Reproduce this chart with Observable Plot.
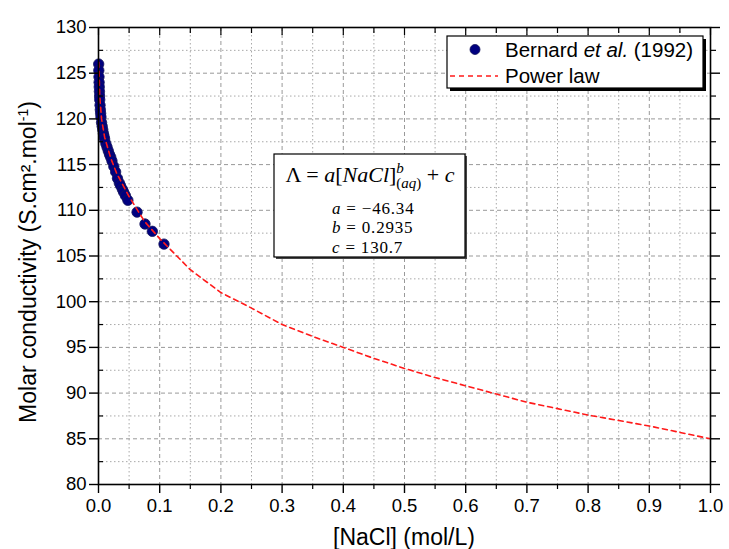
<!DOCTYPE html>
<html>
<head>
<meta charset="utf-8">
<script src="https://cdn.jsdelivr.net/npm/d3@7"></script>
<script src="https://cdn.jsdelivr.net/npm/@observablehq/plot@0.6"></script>
<style>
  html, body { margin: 0; padding: 0; background: white; }
  #chart { position: relative; width: 729px; height: 549px; }
</style>
</head>
<body>
<div id="chart"></div>
<script>
// ---- data ----
const bernardX = [0.0003,0.0005,0.0008,0.001,0.0012,0.0015,0.0018,0.002,0.0025,0.003,0.0035,0.004,0.005,0.006,0.007,0.008,0.009,0.010,0.012,0.014,0.016,0.018,0.020,0.022,0.025,0.028,0.031,0.034,0.036,0.039,0.041,0.044,0.048,0.063,0.076,0.088,0.107];
const bernardY = [126.0,125.3,124.6,124.0,123.5,123.0,122.5,122.1,121.5,121.0,120.6,120.2,119.6,119.2,118.8,118.4,118.1,117.8,117.3,116.9,116.5,116.1,115.8,115.4,114.8,114.2,113.5,113.0,112.7,112.3,112.0,111.6,111.1,109.8,108.5,107.7,106.3];

const fitX = [0.0005,0.002,0.005,0.01,0.02,0.03,0.05,0.075,0.1,0.15,0.2,0.25,0.3,0.35,0.4,0.45,0.5,0.55,0.6,0.65,0.7,0.75,0.8,0.85,0.9,0.95,1.0];
const fitY = [126.2,122.5,120.0,118.0,115.7,114.0,111.5,108.8,106.9,103.5,101.0,99.3,97.5,96.2,95.0,93.8,92.7,91.7,90.8,89.9,89.0,88.3,87.6,87.0,86.4,85.7,85.0];

const xTicks = [0,0.1,0.2,0.3,0.4,0.5,0.6,0.7,0.8,0.9,1.0];
const xMinor = [0.05,0.15,0.25,0.35,0.45,0.55,0.65,0.75,0.85,0.95];
const yTicks = [80,85,90,95,100,105,110,115,120,125,130];
const yMinor = [82.5,87.5,92.5,97.5,102.5,107.5,112.5,117.5,122.5,127.5];

const legendLabels = ["Bernard ", "et al.", " (1992)", "Power law"];
const params = [["a", "−46.34"], ["b", "0.2935"], ["c", "130.7"]];

const points = bernardX.map((x, i) => ({x, y: bernardY[i]}));
const curve = fitX.map((x, i) => ({x, y: fitY[i]}));

const FONT = "'Liberation Sans', Arial, sans-serif";
const fmt = d3.format(".1f");

const plot = Plot.plot({
  width: 729,
  height: 549,
  marginLeft: 98,
  marginRight: 19,
  marginTop: 27,
  marginBottom: 65,
  x: {domain: [0, 1]},
  y: {domain: [80, 130]},
  style: {fontFamily: FONT, fontSize: "18.5px", color: "black", background: "white", overflow: "visible"},
  marks: [
    Plot.ruleX(xMinor, {stroke: "#a8a8a8", strokeDasharray: "1.5,2.5"}),
    Plot.ruleY(yMinor, {stroke: "#a8a8a8", strokeDasharray: "1.5,2.5"}),
    Plot.ruleX(xTicks.slice(1, -1), {stroke: "#999", strokeDasharray: "4,3"}),
    Plot.ruleY(yTicks.slice(1, -1), {stroke: "#999", strokeDasharray: "4,3"}),
    Plot.dot(points, {x: "x", y: "y", r: 5.2, fill: "#000080", stroke: "#14145a", strokeWidth: 0.8}),
    Plot.line(curve, {x: "x", y: "y", stroke: "#ff1a1a", strokeWidth: 1.6, strokeDasharray: "5,4", curve: "linear"}),
    Plot.frame({stroke: "black", strokeWidth: 1.6}),
    // bottom
    Plot.axisX({ticks: xTicks, tickSize: 9, tickPadding: 5, tickFormat: fmt, strokeWidth: 1.4, label: null, letterSpacing: -0.6}),
    Plot.axisX({ticks: xMinor, tickSize: 5, tickFormat: () => "", strokeWidth: 1.2, label: null}),
    // top (inward)
    Plot.axisX({anchor: "top", ticks: xTicks, tickSize: -7, tickFormat: () => "", strokeWidth: 1.2, label: null}),
    Plot.axisX({anchor: "top", ticks: xMinor, tickSize: -5, tickFormat: () => "", strokeWidth: 1.2, label: null}),
    // left
    Plot.axisY({ticks: yTicks, tickSize: 9, tickPadding: 3, tickFormat: d => String(d), strokeWidth: 1.4, label: null, letterSpacing: -0.8}),
    Plot.axisY({ticks: yMinor, tickSize: -5, tickFormat: () => "", strokeWidth: 1.2, label: null}),
    // right
    Plot.axisY({anchor: "right", ticks: yTicks, tickSize: 9, tickFormat: () => "", strokeWidth: 1.4, label: null}),
    Plot.axisY({anchor: "right", ticks: yMinor, tickSize: 5, tickFormat: () => "", strokeWidth: 1.2, label: null})
  ]
});

document.getElementById("chart").appendChild(plot);
const svg = d3.select(plot);

// axis titles
svg.append("text")
  .attr("x", 404).attr("y", 545)
  .attr("text-anchor", "middle")
  .style("font-family", FONT).style("font-size", "23px")
  .text("[NaCl] (mol/L)");

const yt = svg.append("text")
  .attr("transform", "translate(36,262) rotate(-90)")
  .attr("text-anchor", "middle")
  .style("font-family", FONT).style("font-size", "23px");
yt.append("tspan").text("Molar conductivity (S.cm².mol");
yt.append("tspan").attr("dy", -8).style("font-size", "14px").text("-1");
yt.append("tspan").attr("dy", 8).text(")");

// legend box
const lg = svg.append("g").attr("text-anchor", "start");
lg.append("rect").attr("x", 450).attr("y", 39).attr("width", 256).attr("height", 52).attr("fill", "black");
lg.append("rect").attr("x", 447).attr("y", 36).attr("width", 256).attr("height", 52)
  .attr("fill", "white").attr("stroke", "black").attr("stroke-width", 1.2);
lg.append("circle").attr("cx", 475).attr("cy", 49.5).attr("r", 5).attr("fill", "#000080").attr("stroke", "#14145a").attr("stroke-width", 0.8);
const l1 = lg.append("text").attr("x", 505).attr("y", 56.5).attr("text-anchor", "start")
  .style("font-family", FONT).style("font-size", "20.5px");
l1.append("tspan").text(legendLabels[0]);
l1.append("tspan").style("font-style", "italic").text(legendLabels[1]);
l1.append("tspan").text(legendLabels[2]);
lg.append("line").attr("x1", 450).attr("x2", 498).attr("y1", 76).attr("y2", 76)
  .attr("stroke", "#ff1a1a").attr("stroke-width", 1.6).attr("stroke-dasharray", "5,4");
lg.append("text").attr("x", 505).attr("y", 82.5).attr("text-anchor", "start")
  .style("font-family", FONT).style("font-size", "20.5px").text(legendLabels[3]);

// equation box
const SERIF = "'Liberation Serif', 'DejaVu Serif', serif";
const eq = svg.append("g");
eq.append("rect").attr("x", 276).attr("y", 156).attr("width", 191).attr("height", 103).attr("fill", "#444");
eq.append("rect").attr("x", 274).attr("y", 154).attr("width", 191).attr("height", 103)
  .attr("fill", "white").attr("stroke", "black").attr("stroke-width", 1.2);
const t = eq.append("text").attr("x", 370).attr("y", 182).attr("text-anchor", "middle")
  .style("font-family", SERIF).style("font-size", "22px");
t.append("tspan").text("Λ = ");
t.append("tspan").style("font-style", "italic").text("a");
t.append("tspan").text("[");
t.append("tspan").style("font-style", "italic").text("NaCl");
t.append("tspan").text("]");
t.append("tspan").attr("dy", -9).style("font-size", "15px").style("font-style", "italic").text("b");
t.append("tspan").attr("dx", -7.5).attr("dy", 15).style("font-size", "15px").text("(");
t.append("tspan").style("font-size", "15px").style("font-style", "italic").text("aq");
t.append("tspan").style("font-size", "15px").text(")");
t.append("tspan").attr("dy", -6).text(" + ");
t.append("tspan").style("font-style", "italic").text("c");

params.forEach(([k, v], i) => {
  const p = eq.append("text").attr("x", 332).attr("y", 213.5 + i * 19.5).attr("text-anchor", "start")
    .style("font-family", SERIF).style("font-size", "17px").style("letter-spacing", "0.8px");
  p.append("tspan").style("font-style", "italic").text(k);
  p.append("tspan").text(" = " + v);
});
</script>
</body>
</html>
